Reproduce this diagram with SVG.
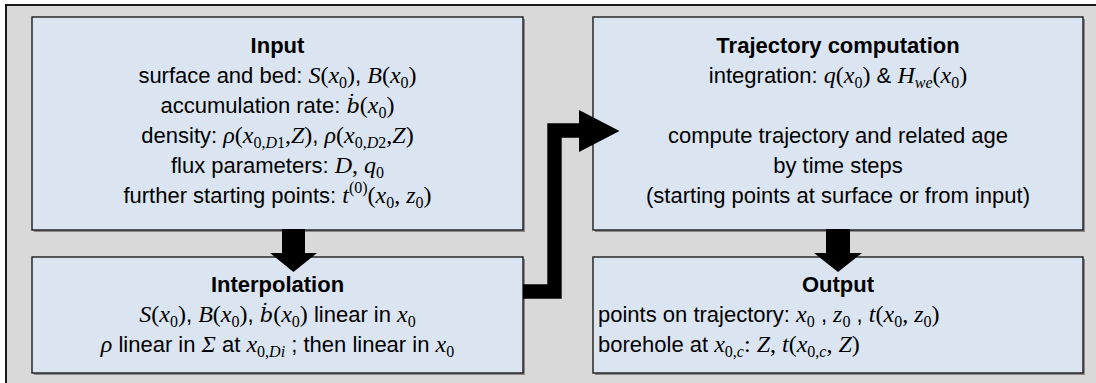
<svg xmlns="http://www.w3.org/2000/svg" width="1096" height="383" viewBox="0 0 1096 383">
<style>
.bg{fill:#d9d9d9;stroke:#1a1a1a;stroke-width:2}
.shadow{fill:#8c8c8c}
.box{fill:#dbe5f1;stroke:#1c1c1c;stroke-width:1.4}
.t{font-family:"Liberation Sans",Arial,sans-serif;font-size:22px;fill:#000}
.c{text-anchor:middle}
.b{font-weight:bold}
.m{font-family:"Liberation Serif","DejaVu Serif",serif;font-style:italic;font-size:24px}
.bd{font-family:"DejaVu Serif",serif;font-style:italic;font-size:21px}
.r{font-family:"Liberation Serif","DejaVu Serif",serif;font-size:24px}
.s{font-family:"Liberation Serif","DejaVu Serif",serif;font-size:16px}
.si{font-family:"Liberation Serif","DejaVu Serif",serif;font-size:16px;font-style:italic}
.arrow{fill:#000}
.conn{fill:none;stroke:#000;stroke-width:14.4;stroke-linejoin:miter}
</style>
<rect x="0" y="0" width="1096" height="383" fill="#ffffff"/>
<rect class="bg" x="6" y="5" width="1100" height="400"/>

<g id="input">
<rect class="shadow" x="34" y="19" width="491" height="213"/>
<rect class="box" x="32" y="17" width="491" height="213"/>
<text class="t c b" x="277.5" y="53">Input</text>
<text class="t c" x="277.5" y="83">surface and bed: <tspan class="m">S</tspan><tspan class="r">(</tspan><tspan class="m">x</tspan><tspan class="s" dy="5">0</tspan><tspan class="r" dy="-5">)</tspan>, <tspan class="m">B</tspan><tspan class="r">(</tspan><tspan class="m">x</tspan><tspan class="s" dy="5">0</tspan><tspan class="r" dy="-5">)</tspan></text>
<text class="t c" x="277.5" y="113">accumulation rate: <tspan class="bd">ḃ</tspan><tspan class="r">(</tspan><tspan class="m">x</tspan><tspan class="s" dy="5">0</tspan><tspan class="r" dy="-5">)</tspan></text>
<text class="t c" x="277.5" y="143">density: <tspan class="m">ρ</tspan><tspan class="r">(</tspan><tspan class="m">x</tspan><tspan class="s" dy="5">0,</tspan><tspan class="si">D</tspan><tspan class="s">1</tspan><tspan class="r" dy="-5">,</tspan><tspan class="m">Z</tspan><tspan class="r">)</tspan>, <tspan class="m">ρ</tspan><tspan class="r">(</tspan><tspan class="m">x</tspan><tspan class="s" dy="5">0,</tspan><tspan class="si">D</tspan><tspan class="s">2</tspan><tspan class="r" dy="-5">,</tspan><tspan class="m">Z</tspan><tspan class="r">)</tspan></text>
<text class="t c" x="277.5" y="173">flux parameters: <tspan class="m">D</tspan><tspan class="r">, </tspan><tspan class="m">q</tspan><tspan class="s" dy="5">0</tspan></text>
<text class="t c" x="277.5" y="203">further starting points: <tspan class="m">t</tspan><tspan class="s" dy="-10">(0)</tspan><tspan class="r" dy="10">(</tspan><tspan class="m">x</tspan><tspan class="s" dy="5">0</tspan><tspan class="r" dy="-5">, </tspan><tspan class="m">z</tspan><tspan class="s" dy="5">0</tspan><tspan class="r" dy="-5">)</tspan></text>
</g>

<g id="interpolation">
<rect class="shadow" x="34" y="259" width="491" height="116"/>
<rect class="box" x="32" y="257" width="491" height="116"/>
<text class="t c b" x="277.5" y="292">Interpolation</text>
<text class="t c" x="277.5" y="322"><tspan class="m">S</tspan><tspan class="r">(</tspan><tspan class="m">x</tspan><tspan class="s" dy="5">0</tspan><tspan class="r" dy="-5">)</tspan>, <tspan class="m">B</tspan><tspan class="r">(</tspan><tspan class="m">x</tspan><tspan class="s" dy="5">0</tspan><tspan class="r" dy="-5">)</tspan>, <tspan class="bd">ḃ</tspan><tspan class="r">(</tspan><tspan class="m">x</tspan><tspan class="s" dy="5">0</tspan><tspan class="r" dy="-5">)</tspan> linear in <tspan class="m">x</tspan><tspan class="s" dy="5">0</tspan></text>
<text class="t c" x="277.5" y="352"><tspan class="m">ρ</tspan> linear in <tspan class="m">Σ</tspan> at <tspan class="m">x</tspan><tspan class="s" dy="5">0,</tspan><tspan class="si">Di</tspan><tspan dy="-5"> ; then linear in </tspan><tspan class="m">x</tspan><tspan class="s" dy="5">0</tspan></text>
</g>

<g id="trajectory">
<rect class="shadow" x="595" y="19" width="490" height="213"/>
<rect class="box" x="593" y="17" width="490" height="213"/>
<text class="t c b" x="838" y="53">Trajectory computation</text>
<text class="t c" x="838" y="83">integration: <tspan class="m">q</tspan><tspan class="r">(</tspan><tspan class="m">x</tspan><tspan class="s" dy="5">0</tspan><tspan class="r" dy="-5">)</tspan> &amp; <tspan class="m">H</tspan><tspan class="si" dy="5">we</tspan><tspan class="r" dy="-5">(</tspan><tspan class="m">x</tspan><tspan class="s" dy="5">0</tspan><tspan class="r" dy="-5">)</tspan></text>
<text class="t c" x="838" y="143">compute trajectory and related age</text>
<text class="t c" x="838" y="173">by time steps</text>
<text class="t c" x="838" y="203">(starting points at surface or from input)</text>
</g>

<g id="output">
<rect class="shadow" x="595" y="259" width="490" height="116"/>
<rect class="box" x="593" y="257" width="490" height="116"/>
<text class="t c b" x="838" y="292">Output</text>
<text class="t" x="598" y="322">points on trajectory: <tspan class="m">x</tspan><tspan class="s" dy="5">0</tspan><tspan dy="-5"> , </tspan><tspan class="m">z</tspan><tspan class="s" dy="5">0</tspan><tspan dy="-5"> , </tspan><tspan class="m">t</tspan><tspan class="r">(</tspan><tspan class="m">x</tspan><tspan class="s" dy="5">0</tspan><tspan class="r" dy="-5">, </tspan><tspan class="m">z</tspan><tspan class="s" dy="5">0</tspan><tspan class="r" dy="-5">)</tspan></text>
<text class="t" x="598" y="352">borehole at <tspan class="m">x</tspan><tspan class="s" dy="5">0,</tspan><tspan class="si">c</tspan><tspan class="r" dy="-5">: </tspan><tspan class="m">Z</tspan><tspan class="r">, </tspan><tspan class="m">t</tspan><tspan class="r">(</tspan><tspan class="m">x</tspan><tspan class="s" dy="5">0,</tspan><tspan class="si">c</tspan><tspan class="r" dy="-5">, </tspan><tspan class="m">Z</tspan><tspan class="r">)</tspan></text>
</g>

<g id="connectors">
<polygon class="arrow" points="282,229 305,229 305,253 317,253 293.5,272 270,253 282,253"/>
<polygon class="arrow" points="826,229 850,229 850,253 862,253 838,272 814,253 826,253"/>
<path class="conn" d="M523,291.5 H554.5 V130.5 H580"/>
<polygon class="arrow" points="579,110 619.5,131 579,152"/>
</g>
</svg>
